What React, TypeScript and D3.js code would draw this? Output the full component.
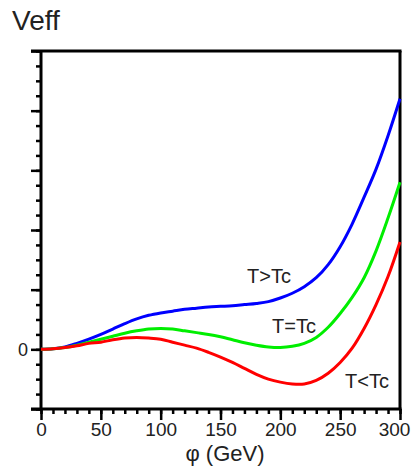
import React, { useEffect, useRef } from 'react'
import * as d3 from 'd3'

// field values phi (GeV)
const phi = [0, 10, 20, 30, 40, 50, 60, 70, 80, 90, 100, 110, 120, 130, 140, 150, 160, 170, 180, 190, 200, 210, 220, 230, 240, 250, 260, 270, 280, 290, 300]

// Veff for the three temperatures (arbitrary units)
const aboveTc = [0, 0.01, 0.04, 0.1, 0.17, 0.25, 0.34, 0.43, 0.51, 0.57, 0.61, 0.64, 0.67, 0.69, 0.71, 0.72, 0.73, 0.75, 0.77, 0.8, 0.86, 0.94, 1.05, 1.2, 1.42, 1.72, 2.1, 2.55, 3.02, 3.58, 4.2]
const atTc = [0, 0.01, 0.03, 0.07, 0.12, 0.17, 0.22, 0.27, 0.31, 0.34, 0.35, 0.34, 0.31, 0.28, 0.25, 0.21, 0.16, 0.11, 0.07, 0.04, 0.03, 0.05, 0.1, 0.2, 0.37, 0.6, 0.87, 1.2, 1.65, 2.2, 2.8]
const belowTc = [0, 0.01, 0.03, 0.06, 0.1, 0.12, 0.16, 0.19, 0.2, 0.19, 0.17, 0.12, 0.07, 0.02, -0.05, -0.13, -0.22, -0.32, -0.42, -0.5, -0.55, -0.58, -0.58, -0.52, -0.4, -0.22, 0.02, 0.35, 0.75, 1.22, 1.8]

const xTicks = [0, 50, 100, 150, 200, 250, 300]
const yTicks = [-1, 0, 1, 2, 3, 4, 5]

const series = [
  { name: 'T>Tc', values: aboveTc, color: '#0000ff', lx: 247, ly: 283 },
  { name: 'T=Tc', values: atTc, color: '#00ee00', lx: 272, ly: 333 },
  { name: 'T<Tc', values: belowTc, color: '#ff0000', lx: 345, ly: 388 },
]

const font = '"Liberation Sans", Arial, sans-serif'

function drawChart(svgEl: SVGSVGElement) {
  const svg = d3.select(svgEl)
  svg.selectAll('*').remove()

  const x = d3.scaleLinear().domain([0, 300]).range([41, 400])
  const y = d3.scaleLinear().domain([-1, 5]).range([409, 51])

  // frame
  svg.append('line').attr('x1', 400).attr('x2', 400).attr('y1', 51).attr('y2', 409)
    .attr('stroke', '#000').attr('stroke-width', 3)
  svg.append('line').attr('x1', 31).attr('x2', 401.5).attr('y1', 51).attr('y2', 51)
    .attr('stroke', '#000').attr('stroke-width', 3)

  // left axis, minor then major
  const yMinor = svg.append('g').attr('transform', 'translate(41,0)')
    .call(d3.axisLeft(y).tickValues(d3.range(-1, 5.01, 0.25)).tickSize(5).tickFormat(() => ''))
  const yMajor = svg.append('g').attr('transform', 'translate(41,0)')
    .call(d3.axisLeft(y).tickValues(yTicks).tickSize(10).tickPadding(3)
      .tickFormat(d => (+d === 0 ? '0' : '')))

  // bottom axis
  const xMinor = svg.append('g').attr('transform', 'translate(0,409)')
    .call(d3.axisBottom(x).tickValues(d3.range(0, 301, 10)).tickSize(5).tickFormat(() => ''))
  const xMajor = svg.append('g').attr('transform', 'translate(0,409)')
    .call(d3.axisBottom(x).tickValues(xTicks).tickSize(11).tickPadding(3))

  ;[yMinor, yMajor, xMinor, xMajor].forEach(g => {
    g.select('.domain').remove()
    g.selectAll('.tick line').attr('stroke', '#000').attr('stroke-width', 2.5)
    g.selectAll('.tick text').attr('fill', '#222').style('font-family', font)
  })
  xMajor.selectAll('.tick text').style('font-size', '19px')
    .attr('dx', (d: any) => (+d === 300 ? -6 : 0))
  yMajor.selectAll('.tick text').style('font-size', '18px')

  svg.append('line').attr('x1', 41).attr('x2', 41).attr('y1', 50).attr('y2', 410.5)
    .attr('stroke', '#000').attr('stroke-width', 3)
  svg.append('line').attr('x1', 31).attr('x2', 401.5).attr('y1', 409).attr('y2', 409)
    .attr('stroke', '#000').attr('stroke-width', 3)

  // curves
  const line = d3.line<number>()
    .x((d, i) => x(phi[i]))
    .y(d => y(d))
    .curve(d3.curveCatmullRom)

  series.forEach(s => {
    svg.append('path')
      .attr('d', line(s.values))
      .attr('fill', 'none')
      .attr('stroke', s.color)
      .attr('stroke-width', 3)

    svg.append('text')
      .attr('x', s.lx)
      .attr('y', s.ly)
      .attr('fill', '#222')
      .style('font-family', font)
      .style('font-size', '20px')
      .text(s.name)
  })

  // titles
  svg.append('text')
    .attr('x', 12).attr('y', 30)
    .attr('fill', '#222')
    .style('font-family', font)
    .style('font-size', '28px')
    .text('Veff')

  svg.append('text')
    .attr('x', 225).attr('y', 461)
    .attr('text-anchor', 'middle')
    .attr('fill', '#222')
    .style('font-family', font)
    .style('font-size', '22px')
    .text('φ (GeV)')
}

export default function App() {
  const ref = useRef<SVGSVGElement>(null)

  useEffect(() => {
    if (ref.current) drawChart(ref.current)
  }, [])

  return (
    <svg ref={ref} width={414} height={469}
      style={{ position: 'absolute', left: 0, top: 0, background: '#fff' }} />
  )
}
